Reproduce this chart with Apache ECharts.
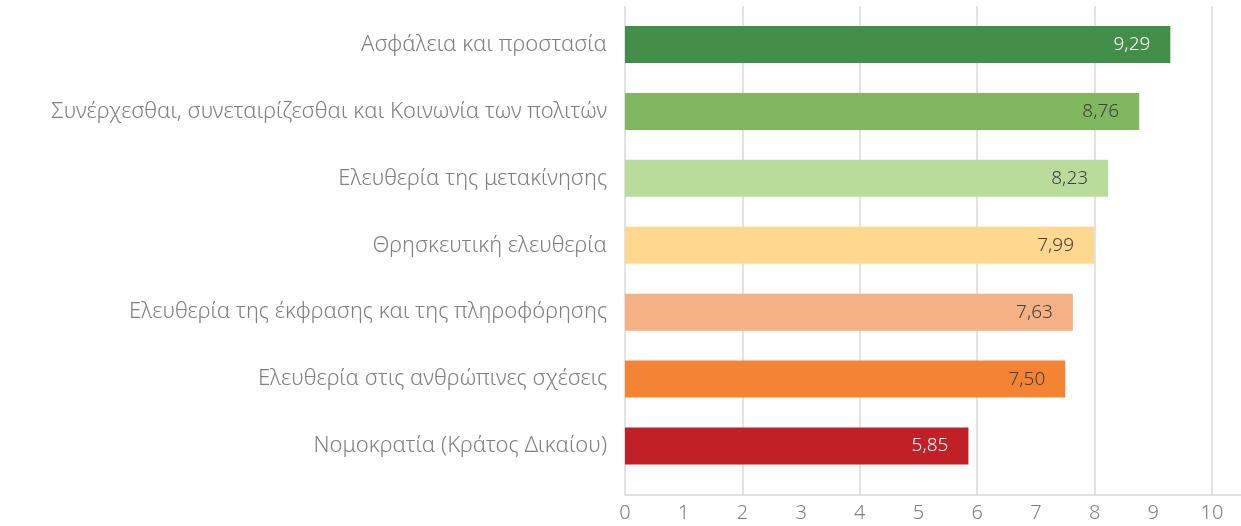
<!DOCTYPE html>
<html lang="el">
  <head>
    <meta charset="UTF-8" />
    <title>Chart</title>
    <style>
      html, body { margin: 0; padding: 0; background: #fff; }
      #chart { width: 1241px; height: 526px; }
    </style>
  </head>
  <body>
    <div id="chart"></div>
    <script src="https://cdn.jsdelivr.net/npm/echarts@6/dist/echarts.min.js"></script>
    <script>
      // data
      var categories = [
        'Ασφάλεια και προστασία',
        'Συνέρχεσθαι, συνεταιρίζεσθαι και Κοινωνία των πολιτών',
        'Ελευθερία της μετακίνησης',
        'Θρησκευτική ελευθερία',
        'Ελευθερία της έκφρασης και της πληροφόρησης',
        'Ελευθερία στις ανθρώπινες σχέσεις',
        'Νομοκρατία (Κράτος Δικαίου)'
      ];
      var values = [9.29, 8.76, 8.23, 7.99, 7.63, 7.50, 5.85];
      var barColors = ['#438e48', '#80b75f', '#b9dc9b', '#ffd890', '#f4b183', '#f48434', '#c02026'];
      var labelColors = ['#ffffff', '#404040', '#404040', '#404040', '#404040', '#404040', '#ffffff'];

      var font = 'Noto Sans';
      var chart = echarts.init(document.getElementById('chart'));

      var option = {
        backgroundColor: '#fff',
        animation: false,
        grid: [
          // bars
          { left: 625, right: 29, top: 11, height: 468.5 },
          // axis frame (gridlines + bottom axis)
          { left: 625, right: 29, top: 11, bottom: 31 }
        ],
        xAxis: [
          { gridIndex: 0, type: 'value', min: 0, max: 10, show: false },
          {
            gridIndex: 1, type: 'value', min: 0, max: 10, interval: 1,
            axisLine: { show: true, lineStyle: { color: '#d9d9d9', width: 1.5 } },
            axisTick: { show: false },
            splitLine: { show: false },
            axisLabel: { color: '#7f7f7f', fontFamily: font, fontSize: 20, fontWeight: 300, margin: 8 }
          },
          {
            gridIndex: 1, type: 'value', min: 0, max: 10, interval: 2,
            axisLine: { show: false },
            axisTick: { show: true, length: 5, lineStyle: { color: '#d9d9d9', width: 1.5 } },
            splitLine: { show: true, lineStyle: { color: '#d9d9d9', width: 1.5 } },
            axisLabel: { show: false }
          }
        ],
        yAxis: [
          {
            gridIndex: 0, type: 'category', inverse: true, data: categories,
            axisLine: { show: false },
            axisTick: { show: false },
            axisLabel: { color: '#7f7f7f', fontFamily: font, fontSize: 22, fontWeight: 300, margin: 18 }
          },
          { gridIndex: 1, type: 'value', show: false }
        ],
        graphic: [
          {
            type: 'line',
            shape: { x1: 1212, y1: 495, x2: 1241, y2: 495 },
            style: { stroke: '#d9d9d9', lineWidth: 1.5 }
          }
        ],
        series: [
          {
            type: 'bar',
            xAxisIndex: 0,
            yAxisIndex: 0,
            barWidth: 37,
            data: values.map(function (v, i) {
              return {
                value: v,
                itemStyle: { color: barColors[i] },
                label: { color: labelColors[i] }
              };
            }),
            label: {
              show: true,
              position: 'insideRight',
              distance: 20,
              fontFamily: font,
              fontSize: 19,
              fontWeight: 300,
              formatter: function (p) {
                return p.value.toFixed(2).replace('.', ',');
              }
            }
          }
        ]
      };

      chart.setOption(option);
    </script>
  </body>
</html>
